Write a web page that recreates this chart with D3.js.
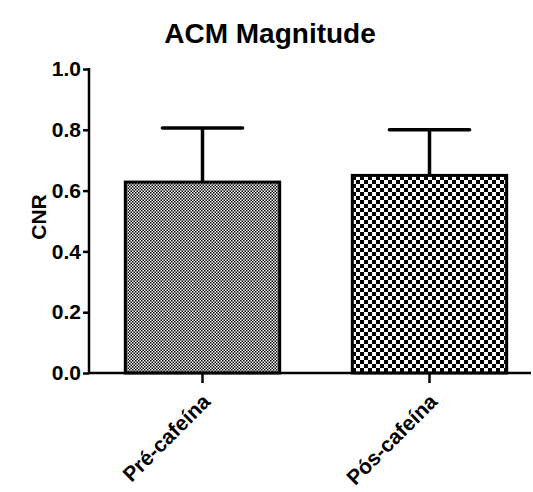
<!DOCTYPE html>
<html><head><meta charset="utf-8">
<script src="https://cdn.jsdelivr.net/npm/d3@7/dist/d3.min.js"></script>
<style>html,body{margin:0;padding:0;background:#fff;}svg{display:block;}</style>
</head><body>
<script>
const categories = ["Pré-cafeína", "Pós-cafeína"];
const means = [0.628, 0.650];
const errorTops = [0.806, 0.800];
const yTicks = [0.0, 0.2, 0.4, 0.6, 0.8, 1.0];
const patterns = ["fineChecker", "coarseChecker"];

const W = 533, H = 492;
const font = "'Liberation Sans', Arial, Helvetica, sans-serif";
const svg = d3.select("body").append("svg").attr("width", W).attr("height", H);

const defs = svg.append("defs");
const p1 = defs.append("pattern").attr("id", "fineChecker").attr("patternUnits", "userSpaceOnUse")
  .attr("width", 3).attr("height", 3);
p1.append("rect").attr("width", 3).attr("height", 3).attr("fill", "#fff");
p1.append("rect").attr("width", 1.5).attr("height", 1.5).attr("fill", "#000");
p1.append("rect").attr("x", 1.5).attr("y", 1.5).attr("width", 1.5).attr("height", 1.5).attr("fill", "#000");
const p2 = defs.append("pattern").attr("id", "coarseChecker").attr("patternUnits", "userSpaceOnUse")
  .attr("width", 8).attr("height", 8);
p2.append("rect").attr("width", 8).attr("height", 8).attr("fill", "#fff");
p2.append("rect").attr("width", 4).attr("height", 4).attr("fill", "#000");
p2.append("rect").attr("x", 4).attr("y", 4).attr("width", 4).attr("height", 4).attr("fill", "#000");

const x = d3.scaleBand().domain(categories).range([89, 543]).paddingInner(0.32).paddingOuter(0.16);
const y = d3.scaleLinear().domain([0, 1]).range([373, 69]);

// title
svg.append("text").attr("x", 270).attr("y", 43).attr("text-anchor", "middle")
  .attr("font-family", font).attr("font-weight", "bold").attr("font-size", 28).text("ACM Magnitude");

// y label
svg.append("text").attr("transform", "translate(46," + (y(0.5) - 4) + ") rotate(-90)")
  .attr("text-anchor", "middle").attr("font-family", font).attr("font-weight", "bold")
  .attr("font-size", 21).text("CNR");

// error bars
const eb = svg.append("g").attr("stroke", "#000").attr("stroke-width", 3.5).attr("fill", "none");
categories.forEach((c, i) => {
  const cx = x(c) + x.bandwidth() / 2;
  eb.append("line").attr("x1", cx).attr("x2", cx).attr("y1", y(means[i])).attr("y2", y(errorTops[i]));
  eb.append("line").attr("x1", cx - x.bandwidth() / 4 - 1.5).attr("x2", cx + x.bandwidth() / 4 + 1.5)
    .attr("y1", y(errorTops[i])).attr("y2", y(errorTops[i])).attr("stroke-linecap", "round");
});

// bars
svg.append("g").selectAll("rect").data(categories).join("rect")
  .attr("x", d => x(d)).attr("width", x.bandwidth())
  .attr("y", (d, i) => y(means[i])).attr("height", (d, i) => y(0) - y(means[i]))
  .attr("fill", (d, i) => "url(#" + patterns[i] + ")")
  .attr("stroke", "#000").attr("stroke-width", 3);

// y axis
const ya = svg.append("g").attr("transform", "translate(89,0)")
  .call(d3.axisLeft(y).tickValues(yTicks).tickFormat(d3.format(".1f")).tickSize(6).tickPadding(2));
ya.select(".domain").attr("stroke-width", 2.5).attr("d", "M0," + (y(1) - 1) + "V" + y(0));
ya.selectAll(".tick line").attr("stroke-width", 2.5);
ya.selectAll(".tick text").attr("font-family", font).attr("font-weight", "bold").attr("font-size", 21).attr("fill", "#000");

// x axis
const xa = svg.append("g").attr("transform", "translate(0," + y(0) + ")")
  .call(d3.axisBottom(x).tickSize(10).tickPadding(6));
xa.select(".domain").attr("stroke-width", 2.5).attr("d", "M88,0H531");
xa.selectAll(".tick line").attr("stroke-width", 2.5);
xa.selectAll(".tick text").attr("font-family", font).attr("font-weight", "bold").attr("font-size", 21)
  .attr("fill", "#000").attr("text-anchor", "end")
  .attr("y", 0).attr("dy", 0)
  .attr("transform", "translate(9,30) rotate(-45)");
</script>
</body></html>
